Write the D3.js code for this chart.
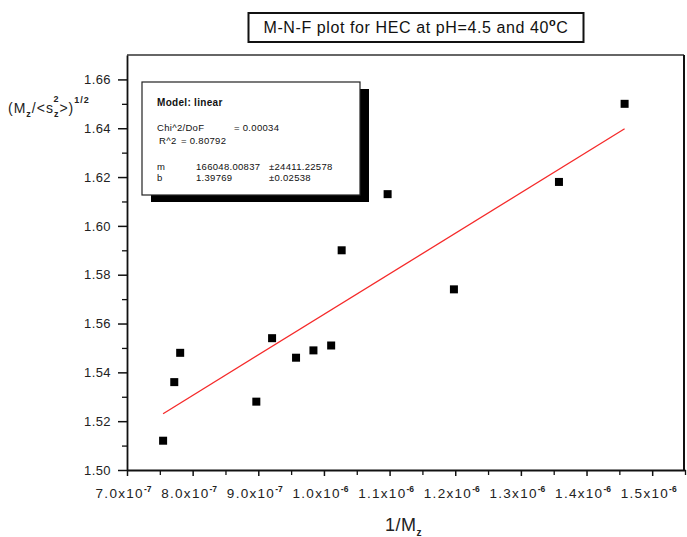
<!DOCTYPE html>
<html><head><meta charset="utf-8">
<script src="https://cdn.jsdelivr.net/npm/d3@7"></script>
<style>
body{margin:0;background:#fff;}
svg{font-family:"Liberation Sans",Arial,sans-serif;}
</style></head>
<body><svg id="c" width="687" height="537"></svg>
<script>
// data
const invMz = [7.55e-7, 7.72e-7, 7.81e-7, 8.97e-7, 9.21e-7, 9.575e-7, 9.84e-7, 1.011e-6, 1.027e-6, 1.097e-6, 1.198e-6, 1.358e-6, 1.458e-6];
const ratio = [1.512, 1.536, 1.548, 1.528, 1.554, 1.546, 1.549, 1.551, 1.590, 1.613, 1.574, 1.618, 1.650];
const fitSlope = 166048.00837;
const fitIntercept = 1.39769;
const yTicks = [1.50, 1.52, 1.54, 1.56, 1.58, 1.60, 1.62, 1.64, 1.66];
const xTickMant = ["7.0","8.0","9.0","1.0","1.1","1.2","1.3","1.4","1.5"];
const xTickExp = ["-7","-7","-7","-6","-6","-6","-6","-6","-6"];
const xTicks = [7e-7, 8e-7, 9e-7, 1.0e-6, 1.1e-6, 1.2e-6, 1.3e-6, 1.4e-6, 1.5e-6];
const fitText = [
  ["Model: linear"],
  ["Chi^2/DoF", "= 0.00034"],
  ["R^2", "= 0.80792"],
  ["m", "166048.00837", "±24411.22578"],
  ["b", "1.39769", "±0.02538"]
];

const svg = d3.select("#c");
const L=127, R=685, T=55, B=470;
const x = d3.scaleLinear().domain([7e-7, 1.55e-6]).range([L, R]);
const y = d3.scaleLinear().domain([1.50, 1.67]).range([B, T]);

// frame top/right
svg.append("line").attr("x1",L).attr("x2",R-1).attr("y1",T).attr("y2",T).attr("stroke","#333").attr("stroke-width",1.5);
svg.append("line").attr("x1",R-1).attr("x2",R-1).attr("y1",T).attr("y2",B).attr("stroke","#111").attr("stroke-width",2);

// y axis
const yMinor = d3.range(1.51, 1.67, 0.02).map(v=>+v.toFixed(2));
svg.append("g").attr("transform",`translate(${L},0)`)
  .call(d3.axisLeft(y).tickValues(yMinor).tickSize(5).tickFormat(""))
  .call(g=>g.select(".domain").remove())
  .selectAll("line").attr("stroke","#111").attr("stroke-width",1.3);
const gy = svg.append("g").attr("transform",`translate(${L},0)`)
  .call(d3.axisLeft(y).tickValues(yTicks).tickSize(9).tickPadding(7).tickSizeOuter(0).tickFormat(d3.format(".2f")));
gy.select(".domain").attr("stroke","#111").attr("stroke-width",1.8);
gy.selectAll("line").attr("stroke","#111").attr("stroke-width",1.5);
gy.selectAll("text").style("font-size","13px").attr("letter-spacing",0.4).attr("fill","#222");

// x axis
const xMinor = xTicks.map(v=>v+5e-8);
svg.append("g").attr("transform",`translate(0,${B})`)
  .call(d3.axisBottom(x).tickValues(xMinor).tickSize(5).tickFormat(""))
  .call(g=>g.select(".domain").remove())
  .selectAll("line").attr("stroke","#111").attr("stroke-width",1.3);
const gx = svg.append("g").attr("transform",`translate(0,${B})`)
  .call(d3.axisBottom(x).tickValues(xTicks).tickSize(6).tickSizeOuter(0).tickFormat(""));
gx.select(".domain").attr("stroke","#111").attr("stroke-width",1.8);
gx.selectAll("line").attr("stroke","#111").attr("stroke-width",1.5);
gx.selectAll(".tick text").remove();
gx.selectAll(".tick").each(function(d,i){
  const t = d3.select(this).append("text")
    .attr("x",-4).attr("y",28).attr("text-anchor","middle")
    .style("font-size","13.5px").style("letter-spacing","1.3px").attr("fill","#222");
  t.append("tspan").style("font-size","13.5px").text(xTickMant[i]+"x10");
  t.append("tspan").style("font-size","8.5px").style("letter-spacing","0px").attr("dy",-6).attr("font-weight","bold").text(xTickExp[i]);
});

// fit line
const xmin = d3.min(invMz), xmax = d3.max(invMz);
svg.append("line")
  .attr("x1",x(xmin)).attr("y1",y(fitIntercept+fitSlope*xmin))
  .attr("x2",x(xmax)).attr("y2",y(fitIntercept+fitSlope*xmax))
  .attr("stroke","#f52a2a").attr("stroke-width",1.3);

// points
svg.append("g").selectAll("rect").data(invMz.map((v,i)=>[v,ratio[i]])).join("rect")
  .attr("x",d=>x(d[0])-4).attr("y",d=>y(d[1])-4).attr("width",8).attr("height",8).attr("fill","#000");

// fit text box
const bx=142, by=82, bw=218, bh=113;
svg.append("rect").attr("x",bx+9).attr("y",by+7).attr("width",bw).attr("height",bh).attr("fill","#000");
svg.append("rect").attr("x",bx).attr("y",by).attr("width",bw).attr("height",bh).attr("fill","#fff").attr("stroke","#222").attr("stroke-width",1.2);
const ft = svg.append("g").attr("font-size",9.5).attr("letter-spacing",0.3).attr("fill","#111");
ft.append("text").attr("x",157).attr("y",106).attr("font-weight","bold").attr("font-size",10).text(fitText[0][0]);
ft.append("text").attr("x",157).attr("y",131).text(fitText[1][0]);
ft.append("text").attr("x",234).attr("y",131).text(fitText[1][1]);
ft.append("text").attr("x",159).attr("y",144).text(fitText[2][0]);
ft.append("text").attr("x",181).attr("y",144).text(fitText[2][1]);
ft.append("text").attr("x",157).attr("y",170).text(fitText[3][0]);
ft.append("text").attr("x",196).attr("y",170).text(fitText[3][1]);
ft.append("text").attr("x",269).attr("y",170).text(fitText[3][2]);
ft.append("text").attr("x",157).attr("y",181).text(fitText[4][0]);
ft.append("text").attr("x",196).attr("y",181).text(fitText[4][1]);
ft.append("text").attr("x",269).attr("y",181).text(fitText[4][2]);

// title
svg.append("rect").attr("x",248.5).attr("y",13).attr("width",335).attr("height",29).attr("fill","#fff").attr("stroke","#111").attr("stroke-width",2);
const tt = svg.append("text").attr("x",416).attr("y",33).attr("text-anchor","middle").attr("font-size",16).attr("letter-spacing",0.6).attr("fill","#111");
tt.append("tspan").text("M-N-F plot for HEC at pH=4.5 and 40");
tt.append("tspan").attr("font-size",11).attr("dy",-7).attr("font-weight","bold").text("o");
tt.append("tspan").attr("dy",7).text("C");

// y title
const yt = svg.append("text").attr("x",8).attr("y",113).attr("font-size",14).attr("letter-spacing",1).attr("fill","#222");
yt.append("tspan").text("(M");
yt.append("tspan").attr("font-size",9).attr("dy",4).attr("font-weight","bold").text("z");
yt.append("tspan").attr("dy",-4).text("/<s");
yt.append("tspan").attr("font-size",9).attr("dy",4).attr("font-weight","bold").text("z");
yt.append("tspan").attr("font-size",9).attr("dy",-15).attr("dx",-6).attr("font-weight","bold").text("2");
yt.append("tspan").attr("dy",11).text(">)");
yt.append("tspan").attr("font-size",9).attr("dy",-10).attr("font-weight","bold").text("1/2");

// x title
const xt = svg.append("text").attr("x",385).attr("y",531).attr("font-size",18).attr("letter-spacing",0.5).attr("fill","#222");
xt.append("tspan").text("1/M");
xt.append("tspan").attr("font-size",10).attr("dy",5).attr("font-weight","bold").text("z");
</script></body></html>
